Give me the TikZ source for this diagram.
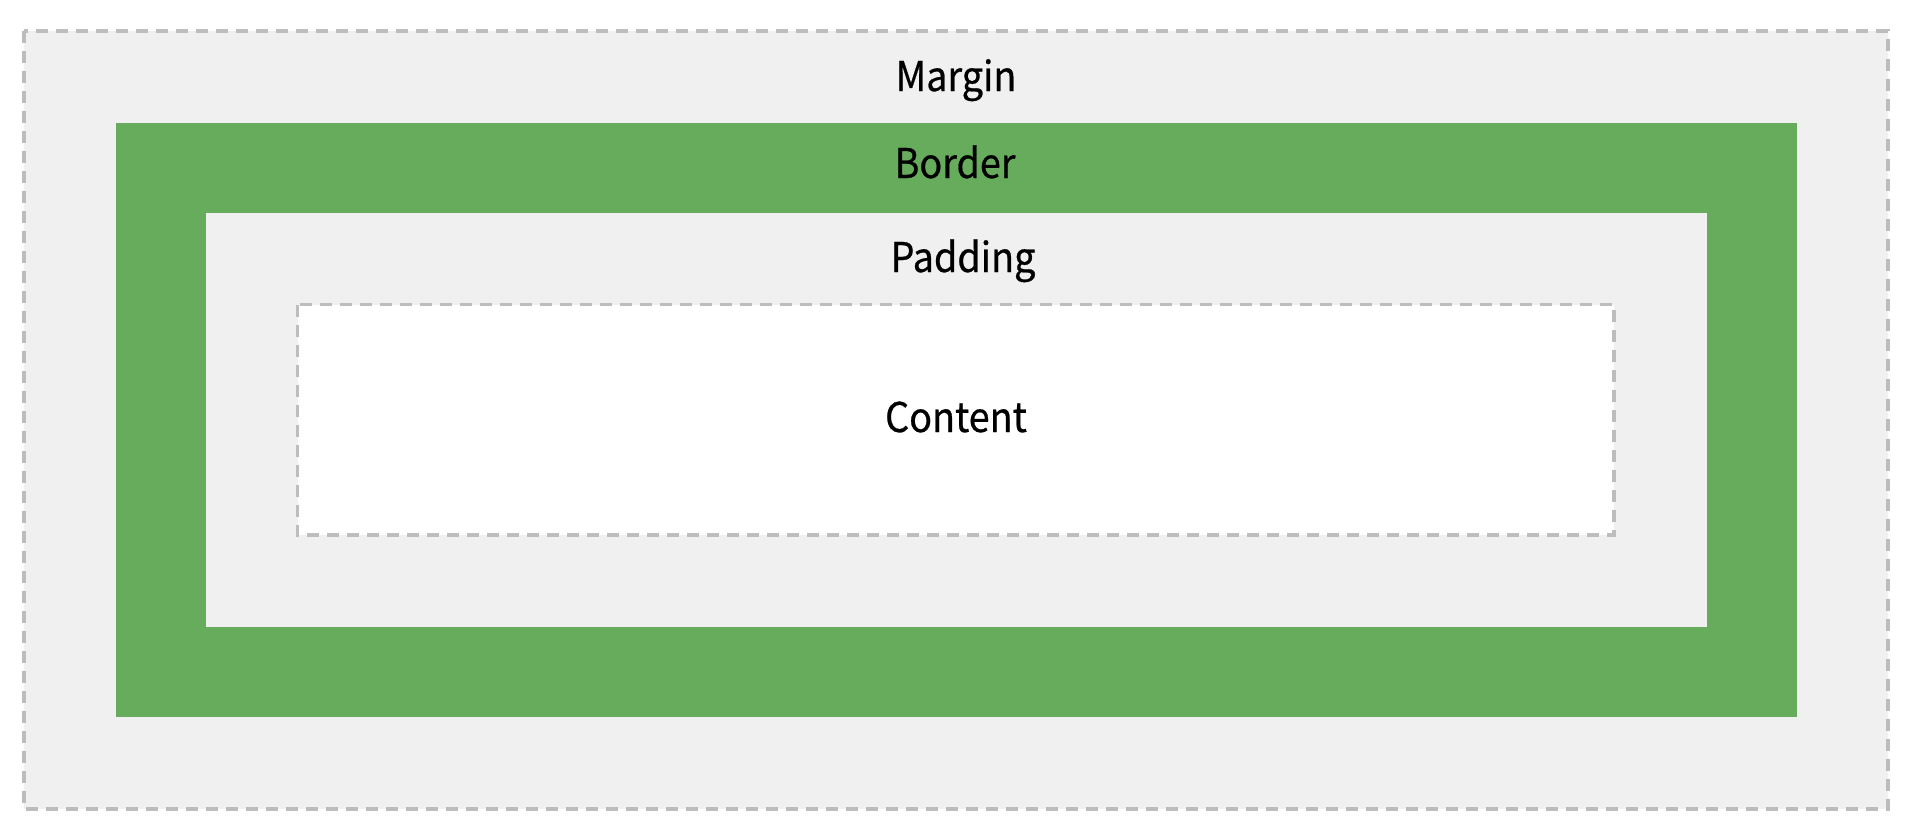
\documentclass[tikz,border=0pt]{standalone}
\usepackage{fontspec}
\setmainfont{Noto Sans CJK KR}[FakeStretch=0.92, FakeBold=0.6]
\usetikzlibrary{positioning}

\definecolor{boxgray}{HTML}{F0F0F0}
\definecolor{borderGreen}{HTML}{67AC5C}
\definecolor{dashGray}{HTML}{BDBDBD}

\begin{document}
\begin{tikzpicture}[x=1pt, y=-1pt,
      dashbox/.style={draw=dashGray, line width=3.8pt, dash pattern=on 12pt off 8pt},
      label/.style={anchor=base, inner sep=0pt, font=\fontsize{41}{50}\selectfont}]
    \useasboundingbox (0,0) rectangle (1910,838);
    \filldraw[fill=boxgray, dashbox] (24,31) rectangle (1888,809);
    \fill[borderGreen] (116,123) rectangle (1797,717);
    \fill[boxgray] (206,213) rectangle (1707,627);
    \filldraw[fill=white, dashbox] (297.5,304.5) rectangle (1614,535);
    \node (margin) [label] at (956,91) {Margin};
    \node (border) [label] at (955,178) {Border};
    \node (padding) [label] at (963,272) {Padding};
    \node (content) [label] at (956,432) {Content};
  \end{tikzpicture}
\end{document}
